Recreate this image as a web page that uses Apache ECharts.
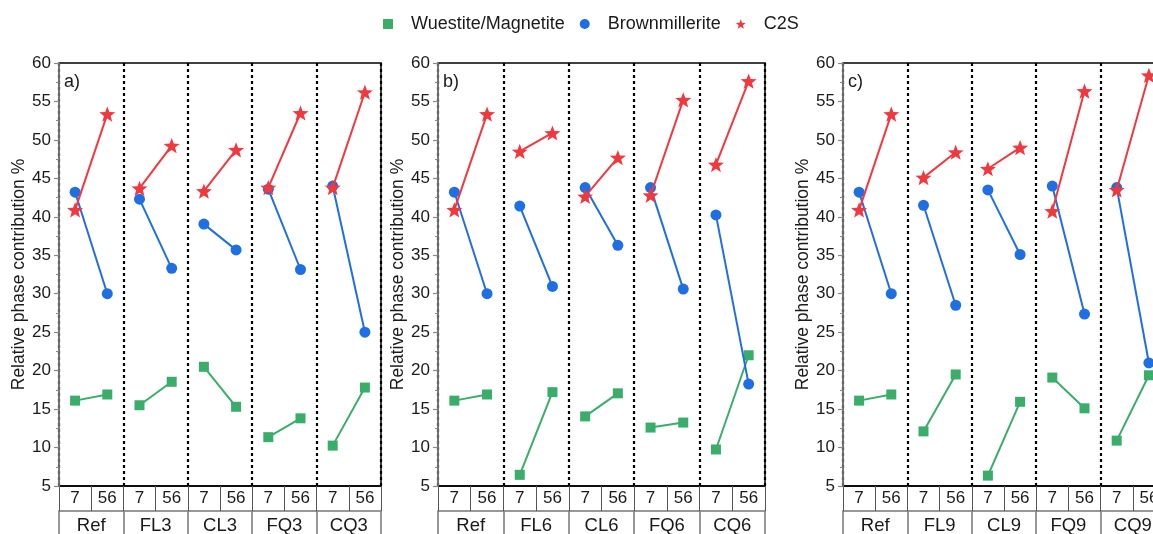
<!DOCTYPE html>
<html>
<head>
<meta charset="utf-8">
<script src="https://cdn.jsdelivr.net/npm/echarts@6/dist/echarts.min.js"></script>
<style>
html,body{margin:0;padding:0;background:#fff;overflow:hidden;}
#chart{width:1153px;height:534px;}
</style>
</head>
<body>
<div id="chart"></div>
<script>
// ---- data ----
const subLabels = ['7', '56'];
const seriesNames = ['Wuestite/Magnetite', 'Brownmillerite', 'C2S'];
const panelLabels = ['a)', 'b)', 'c)'];
const yTitle = 'Relative phase contribution %';

const groupsA = ['Ref', 'FL3', 'CL3', 'FQ3', 'CQ3'];
const wmA  = [[16.1, 16.9], [15.5, 18.55], [20.5, 15.3], [11.35, 13.8], [10.25, 17.8]];
const bmA  = [[43.2, 30.0], [42.3, 33.3], [39.05, 35.7], [43.6, 33.15], [44.0, 25.0]];
const c2sA = [[40.9, 53.35], [43.7, 49.25], [43.35, 48.7], [43.8, 53.5], [43.8, 56.2]];

const groupsB = ['Ref', 'FL6', 'CL6', 'FQ6', 'CQ6'];
const wmB  = [[16.1, 16.9], [6.45, 17.2], [14.05, 17.05], [12.6, 13.25], [9.75, 22.0]];
const bmB  = [[43.2, 30.0], [41.4, 30.95], [43.8, 36.3], [43.8, 30.6], [40.25, 18.25]];
const c2sB = [[40.9, 53.35], [48.5, 50.9], [42.65, 47.7], [42.8, 55.2], [46.8, 57.65]];

const groupsC = ['Ref', 'FL9', 'CL9', 'FQ9', 'CQ9'];
const wmC  = [[16.1, 16.9], [12.1, 19.5], [6.35, 15.95], [19.1, 15.1], [10.9, 19.4]];
const bmC  = [[43.2, 30.0], [41.5, 28.5], [43.5, 35.1], [44.0, 27.35], [43.8, 21.0]];
const c2sC = [[40.9, 53.35], [45.1, 48.4], [46.25, 49.0], [40.75, 56.35], [43.5, 58.4]];

// ---- styling / layout ----
const FONT = '"Liberation Sans", Arial, sans-serif';
const TXT = '#1a1a1a';
const colors = ['#3aad6b', '#1f6fe3', '#f0393f'];
function starPath() {
  const p = [];
  for (let i = 0; i < 10; i++) {
    const r = i % 2 ? 0.42 : 1;
    const a = -Math.PI / 2 + i * Math.PI / 5;
    p.push((50 + 50 * r * Math.cos(a)).toFixed(2) + ' ' + (50 + 50 * r * Math.sin(a)).toFixed(2));
  }
  return 'path://M' + p.join(' L') + ' Z';
}
const STAR = starPath();
const symbols = ['rect', 'circle', STAR];
const symbolSizes = [10, 11, 16];

const panels = [
  { groups: groupsA, sets: [wmA, bmA, c2sA], left: 59, width: 322 },
  { groups: groupsB, sets: [wmB, bmB, c2sB], left: 438, width: 327 },
  { groups: groupsC, sets: [wmC, bmC, c2sC], left: 843, width: 322 }
];

const grid = [], xAxis = [], yAxis = [], series = [], graphic = [];
panels.forEach((pn, p) => {
  grid.push({ left: pn.left, width: pn.width, top: 63, height: 423,
    outerBoundsMode: 'none', containLabel: false,
    show: true, borderColor: '#000', borderWidth: 1.5, backgroundColor: 'transparent' });
  const cats = [];
  pn.groups.forEach(() => subLabels.forEach(s => cats.push(s)));
  xAxis.push({
    type: 'category', gridIndex: p, data: cats, position: 'bottom', boundaryGap: true, z: 2,
    axisLine: { show: true, lineStyle: { color: '#000', width: 1.5 } },
    axisTick: { show: true, interval: 0, length: 25, lineStyle: { color: '#555', width: 1 } },
    axisLabel: { interval: 0, fontSize: 17, color: TXT, fontFamily: FONT, margin: 4 },
    splitLine: { show: false }
  });
  xAxis.push({
    type: 'category', gridIndex: p, data: pn.groups, position: 'bottom', offset: 25, boundaryGap: true, z: 1,
    axisLine: { show: true, lineStyle: { color: '#777', width: 1.5 } },
    axisTick: { show: true, interval: 0, length: 26, lineStyle: { color: '#777', width: 1.5 } },
    axisLabel: { interval: 0, fontSize: 18.5, color: TXT, fontFamily: FONT, margin: 5 },
    splitLine: { show: true, interval: 0, lineStyle: { color: '#000', width: 2.2, type: [3, 3] } }
  });
  yAxis.push({
    type: 'value', gridIndex: p, min: 5, max: 60, interval: 5, z: 3,
    name: yTitle, nameLocation: 'middle', nameGap: 27,
    nameTextStyle: { fontSize: 17.5, color: TXT, fontFamily: FONT },
    axisLine: { show: true, lineStyle: { color: '#888', width: 1.5 } },
    axisTick: { show: true, length: 5, lineStyle: { color: '#888', width: 1.2 } },
    minorTick: { show: true, splitNumber: 2, length: 3, lineStyle: { color: '#888', width: 1 } },
    axisLabel: { fontSize: 17, color: TXT, fontFamily: FONT, margin: 8 },
    splitLine: { show: false }
  });
  pn.sets.forEach((set, si) => {
    set.forEach((pair, g) => {
      const data = cats.map(() => null);
      data[2 * g] = pair[0];
      data[2 * g + 1] = pair[1];
      series.push({
        type: 'line', name: seriesNames[si], xAxisIndex: 2 * p, yAxisIndex: p,
        data: data, connectNulls: false, symbol: symbols[si], symbolSize: symbolSizes[si],
        symbolKeepAspect: true, showSymbol: true, animation: false, z: 3 + si,
        lineStyle: { color: colors[si], width: 2 },
        itemStyle: { color: colors[si] },
        emphasis: { disabled: true }
      });
    });
  });
  graphic.push({ type: 'text', left: pn.left + 5, top: 73,
    style: { text: panelLabels[p], fontSize: 18, fill: TXT, fontFamily: FONT } });
});

const chart = echarts.init(document.getElementById('chart'), null, { renderer: 'canvas' });
chart.setOption({
  backgroundColor: '#fff',
  animation: false,
  legend: {
    left: 378, top: 10, itemWidth: 10, itemHeight: 10, itemGap: 15,
    textStyle: { fontSize: 18, color: TXT, fontFamily: FONT, padding: [0, 0, 0, 13] },
    data: [
      { name: seriesNames[0], icon: 'rect' },
      { name: seriesNames[1], icon: 'circle' },
      { name: seriesNames[2], icon: STAR }
    ]
  },
  grid: grid, xAxis: xAxis, yAxis: yAxis, series: series, graphic: graphic
});
</script>
</body>
</html>
